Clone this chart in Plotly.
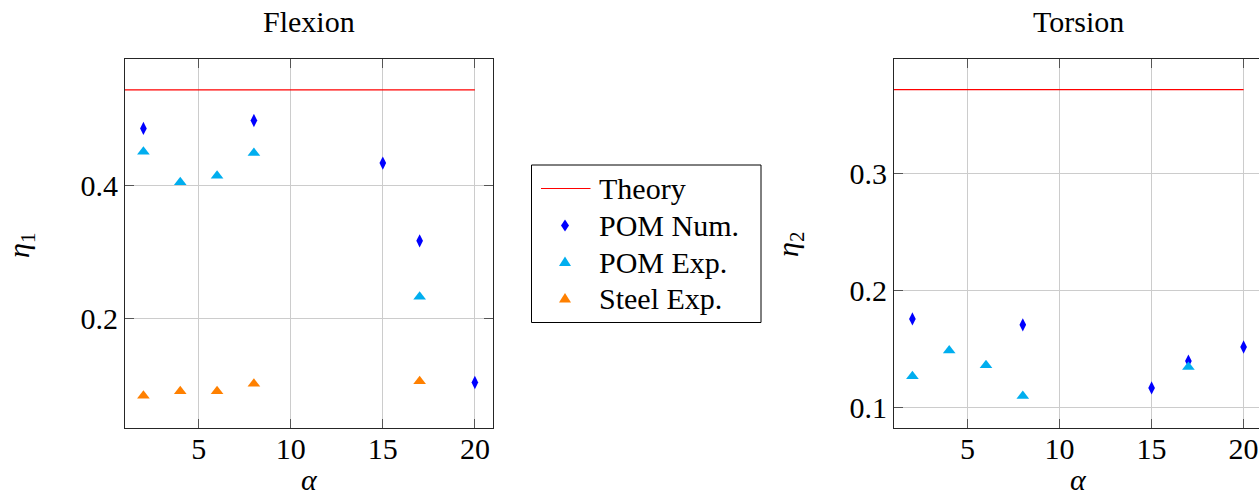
import plotly.graph_objects as go

# ---------------- data ----------------
alpha_theory = [1, 20]
flex_theory = [0.544, 0.544]
tors_theory = [0.372, 0.372]

flex_pom_num_x = [2, 8, 15, 17, 20]
flex_pom_num_y = [0.486, 0.498, 0.434, 0.317, 0.104]
flex_pom_exp_x = [2, 4, 6, 8, 17]
flex_pom_exp_y = [0.451, 0.405, 0.415, 0.449, 0.233]
flex_steel_exp_x = [2, 4, 6, 8, 17]
flex_steel_exp_y = [0.084, 0.091, 0.091, 0.102, 0.106]

tors_pom_num_x = [2, 8, 15, 17, 20]
tors_pom_num_y = [0.176, 0.171, 0.117, 0.140, 0.152]
tors_pom_exp_x = [2, 4, 6, 8, 17]
tors_pom_exp_y = [0.127, 0.149, 0.1365, 0.110, 0.135]

x_ticks = [5, 10, 15, 20]
flex_y_ticks = [0.2, 0.4]
tors_y_ticks = [0.1, 0.2, 0.3]

legend_names = ["Theory", "POM Num.", "POM Exp.", "Steel Exp."]

# ---------------- styling ----------------
W, H = 1259, 498
FONT = "Liberation Serif, Tinos, Times New Roman, DejaVu Serif, serif"
C_THEORY = "#ff0000"
C_NUM = "#0000ff"
C_EXP = "#00aeef"
C_STEEL = "#ff8000"
GRID = "#cccccc"
FRAME = "#262626"
TICKC = "#555555"


def px_x(p):
    return p / W


def px_y(p):
    return 1 - p / H


fig = go.Figure()

# Flexion (left subplot: x, y)
fig.add_trace(go.Scatter(x=alpha_theory, y=flex_theory, mode="lines", name="Theory",
                         line=dict(color=C_THEORY, width=1.2), xaxis="x", yaxis="y"))
fig.add_trace(go.Scatter(x=flex_pom_num_x, y=flex_pom_num_y, mode="markers", name="POM Num.",
                         marker=dict(symbol="diamond-tall", size=9.5, color=C_NUM),
                         xaxis="x", yaxis="y"))
fig.add_trace(go.Scatter(x=flex_pom_exp_x, y=flex_pom_exp_y, mode="markers", name="POM Exp.",
                         marker=dict(symbol="triangle-up", size=11, color=C_EXP),
                         xaxis="x", yaxis="y"))
fig.add_trace(go.Scatter(x=flex_steel_exp_x, y=flex_steel_exp_y, mode="markers", name="Steel Exp.",
                         marker=dict(symbol="triangle-up", size=11, color=C_STEEL),
                         xaxis="x", yaxis="y"))

# Torsion (right subplot: x2, y2)
fig.add_trace(go.Scatter(x=alpha_theory, y=tors_theory, mode="lines", name="Theory",
                         line=dict(color=C_THEORY, width=1.2), xaxis="x2", yaxis="y2"))
fig.add_trace(go.Scatter(x=tors_pom_num_x, y=tors_pom_num_y, mode="markers", name="POM Num.",
                         marker=dict(symbol="diamond-tall", size=9.5, color=C_NUM),
                         xaxis="x2", yaxis="y2"))
fig.add_trace(go.Scatter(x=tors_pom_exp_x, y=tors_pom_exp_y, mode="markers", name="POM Exp.",
                         marker=dict(symbol="triangle-up", size=11, color=C_EXP),
                         xaxis="x2", yaxis="y2"))

ydom = [px_y(427.7), px_y(59.3)]
tickfont = dict(family=FONT, size=30, color="black")

common_x = dict(showgrid=True, gridcolor=GRID, gridwidth=1, zeroline=False,
                showline=True, linecolor=FRAME, linewidth=1.2,
                ticks="inside", ticklen=9, tickcolor=TICKC, tickwidth=1,
                tickvals=x_ticks, tickfont=tickfont, automargin=False,
                ticklabelstandoff=-6)
common_y = dict(showgrid=True, gridcolor=GRID, gridwidth=1, zeroline=False,
                showline=True, linecolor=FRAME, linewidth=1.2,
                ticks="inside", ticklen=9, tickcolor=TICKC, tickwidth=1,
                tickfont=tickfont, tickformat=".1f", automargin=False,
                ticklabelstandoff=0)

# ---------------- legend box (drawn as shapes + text) ----------------
LEG_L, LEG_R, LEG_T, LEG_B = 531.5, 761, 165, 322.5
ROW_Y = [188.5, 225.5, 262, 298.5]
SYM_X = 565
TEXT_X = 597


def path_px(points):
    s = "M " + " L ".join(f"{px_x(x):.5f},{px_y(y):.5f}" for x, y in points) + " Z"
    return s


shapes = [
    dict(type="rect", xref="paper", yref="paper",
         x0=px_x(LEG_L), x1=px_x(LEG_R), y0=px_y(LEG_B), y1=px_y(LEG_T),
         line=dict(color="black", width=1), fillcolor="white", layer="above"),
    dict(type="line", xref="paper", yref="paper",
         x0=px_x(541), x1=px_x(590.5), y0=px_y(ROW_Y[0]), y1=px_y(ROW_Y[0]),
         line=dict(color=C_THEORY, width=1.2), layer="above"),
    dict(type="path", xref="paper", yref="paper", layer="above",
         path=path_px([(SYM_X, ROW_Y[1] - 6), (SYM_X + 4, ROW_Y[1]),
                       (SYM_X, ROW_Y[1] + 6), (SYM_X - 4, ROW_Y[1])]),
         fillcolor=C_NUM, line=dict(width=0)),
    dict(type="path", xref="paper", yref="paper", layer="above",
         path=path_px([(SYM_X, ROW_Y[2] - 5.5), (SYM_X + 6, ROW_Y[2] + 4),
                       (SYM_X - 6, ROW_Y[2] + 4)]),
         fillcolor=C_EXP, line=dict(width=0)),
    dict(type="path", xref="paper", yref="paper", layer="above",
         path=path_px([(SYM_X, ROW_Y[3] - 5.5), (SYM_X + 6, ROW_Y[3] + 4),
                       (SYM_X - 6, ROW_Y[3] + 4)]),
         fillcolor=C_STEEL, line=dict(width=0)),
]

annotations = [
    dict(text="Flexion", x=px_x(309), y=px_y(22), xref="paper", yref="paper",
         showarrow=False, xanchor="center", yanchor="middle",
         font=dict(family=FONT, size=30)),
    dict(text="Torsion", x=px_x(1078), y=px_y(22), xref="paper", yref="paper",
         showarrow=False, xanchor="center", yanchor="middle",
         font=dict(family=FONT, size=30)),
    dict(text="<i>α</i>", x=px_x(309), y=0, xref="paper", yref="paper",
         showarrow=False, xanchor="center", yanchor="bottom",
         font=dict(family=FONT, size=30)),
    dict(text="<i>α</i>", x=px_x(1078), y=0, xref="paper", yref="paper",
         showarrow=False, xanchor="center", yanchor="bottom",
         font=dict(family=FONT, size=30)),
    dict(text="<i>η</i><sub>1</sub>", x=px_x(21), y=px_y(245), xref="paper", yref="paper",
         showarrow=False, xanchor="center", yanchor="middle", textangle=-90,
         font=dict(family=FONT, size=30)),
    dict(text="<i>η</i><sub>2</sub>", x=px_x(790), y=px_y(245), xref="paper", yref="paper",
         showarrow=False, xanchor="center", yanchor="middle", textangle=-90,
         font=dict(family=FONT, size=30)),
]
for name, ry in zip(legend_names, ROW_Y):
    annotations.append(dict(text=name, x=px_x(TEXT_X), y=px_y(ry), xref="paper", yref="paper",
                            showarrow=False, xanchor="left", yanchor="middle",
                            font=dict(family=FONT, size=30, color="black")))

fig.update_layout(
    width=W, height=H,
    margin=dict(l=0, r=0, t=0, b=0),
    paper_bgcolor="white", plot_bgcolor="white",
    template="none",
    font=dict(family=FONT, size=30, color="black"),
    xaxis=dict(domain=[px_x(125), px_x(493.3)], range=[1, 21], mirror="all", anchor="y", **common_x),
    yaxis=dict(domain=ydom, range=[0.036, 0.590], mirror="all", anchor="x",
               tickvals=flex_y_ticks, **common_y),
    xaxis2=dict(domain=[px_x(894), 1.0], range=[1, 1 + (W - 894) / 18.4], mirror="all",
                anchor="y2", **common_x),
    yaxis2=dict(domain=ydom, range=[0.083, 0.398], mirror=False, anchor="x2",
                tickvals=tors_y_ticks, **common_y),
    showlegend=False,
    shapes=shapes,
    annotations=annotations,
)

fig.write_html("out.html", config={"displayModeBar": False},
               post_script="document.body.style.margin='0';document.body.style.overflow='hidden';")
